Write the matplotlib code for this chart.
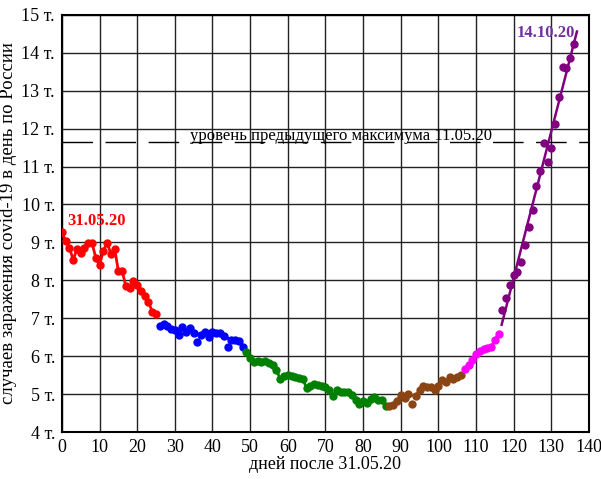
import numpy as np
import matplotlib
matplotlib.use("Agg")
import matplotlib.pyplot as plt

plt.rcParams['font.family'] = ['Liberation Serif', 'DejaVu Serif']

# daily new cases in Russia, 31.05.20 .. 14.10.20 (thousands)
cases = [
    9268, 9035, 8863, 8536, 8831, 8726, 8855, 8984, 8985, 8595,
    8404, 8779, 8987, 8706, 8835, 8246, 8248, 7843, 7790, 7972,
    7889, 7728, 7600, 7425, 7176, 7113, 6800, 6852, 6791, 6719,
    6693, 6556, 6760, 6632, 6736, 6611, 6368, 6562, 6635, 6509,
    6635, 6611, 6615, 6537, 6248, 6422, 6428, 6406, 6234, 6109,
    5940, 5842, 5862, 5848, 5871, 5811, 5765, 5635, 5395, 5475,
    5509, 5482, 5462, 5427, 5394, 5159, 5204, 5267, 5241, 5212,
    5189, 5118, 4945, 5102, 5057, 5065, 5061, 4969, 4839, 4748,
    4828, 4767, 4870, 4921, 4852, 4852, 4696, 4676, 4711, 4829,
    4980, 4897, 4993, 4729, 4952, 5110, 5205, 5195, 5185, 5099,
    5218, 5363, 5310, 5443, 5406, 5449, 5509, 5670, 5762, 5905,
    6065, 6148, 6196, 6215, 6234, 6431, 6595, 7212, 7523, 7867,
    8135, 8232, 8481, 8945, 9412, 9859, 10499, 10888, 11615, 11115,
    11493, 12126, 12846, 13634, 13592, 13868, 14231,
]
cases = np.array(cases) / 1000.0
days = np.arange(len(cases))

# segments: (first day, last day, colour)
seg_start = [0, 26, 49, 87, 107, 117]
seg_end = [25, 48, 86, 106, 116, 136]
seg_colors = ['red', 'blue', 'green', '#8B4513', 'magenta', 'purple']
# low points drawn without line
outliers = [36, 44, 93]

prev_max = 11.656

fig = plt.figure(figsize=(6.01, 4.79), dpi=100)
ax = fig.add_axes([0.103, 0.098, 0.877, 0.871])

for s, e, c in zip(seg_start, seg_end, seg_colors):
    d = days[s:e + 1]
    v = cases[s:e + 1]
    keep = ~np.isin(d, outliers)
    if c != 'purple':
        ax.plot(d[keep], v[keep], '-', color=c, lw=2, zorder=3)
    ax.plot(d, v, 'o', color=c, ms=5, zorder=4)

# linear fit of the last segment
d = days[117:]
k, b = np.polyfit(d, cases[117:], 1)
xf = np.array([116.8, 136.8])
ax.plot(xf, k * xf + b, color='purple', lw=1.8, zorder=3)

ax.axhline(prev_max, color='black', lw=1, dashes=(22, 9), zorder=2)
ax.text(74, prev_max - 0.06, 'уровень предыдущего максимума 11.05.20',
        ha='center', va='bottom', fontsize=12)

ax.text(1.5, 9.45, '31.05.20', color='red', fontsize=12, fontweight='bold')
ax.text(128.5, 14.42, '14.10.20', color='#7030A0', fontsize=12,
        fontweight='bold', ha='center')

ax.set_xlim(0, 140)
ax.set_ylim(4, 15)
ax.set_xticks(np.arange(0, 141, 10))
ax.set_yticks(np.arange(4, 16, 1))
ax.set_yticklabels([f'{v} т.' for v in range(4, 16)])
ax.tick_params(labelsize=13, length=0, pad=5)
ax.grid(True, color='#222222', lw=1)
ax.set_axisbelow(True)
for sp in ax.spines.values():
    sp.set_linewidth(1.5)

ax.set_xlabel('дней после 31.05.20', fontsize=13, labelpad=0)
ax.set_ylabel('случаев заражения covid-19 в день по России', fontsize=13.5,
              labelpad=3)

fig.savefig('out.png', dpi=100)
